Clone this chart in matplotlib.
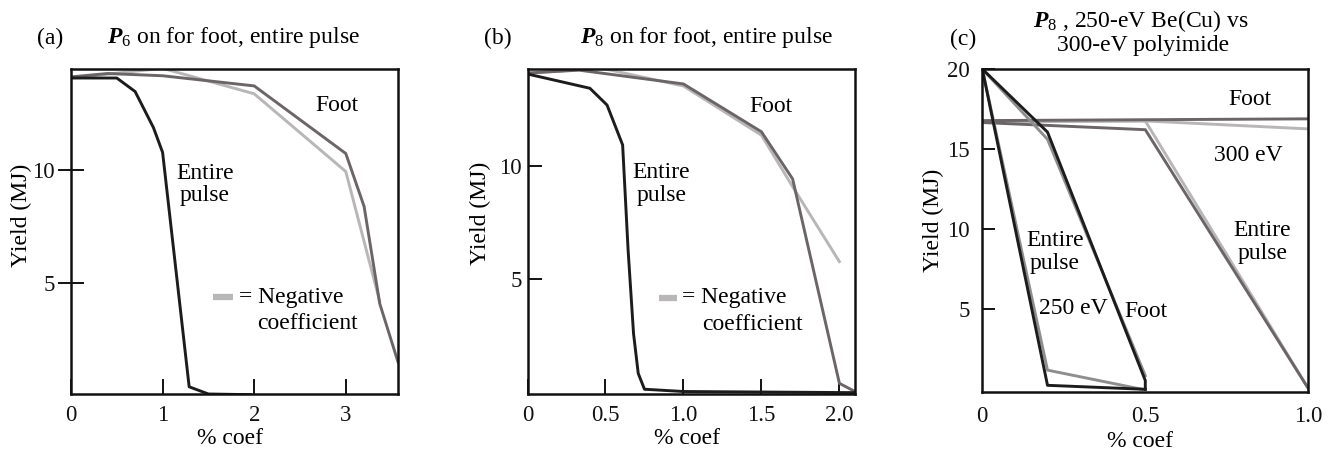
import numpy as np
import matplotlib.pyplot as plt

plt.rcParams['font.family'] = ['Liberation Serif', 'DejaVu Serif']
plt.rcParams['mathtext.fontset'] = 'custom'
plt.rcParams['mathtext.rm'] = 'Liberation Serif'
plt.rcParams['mathtext.it'] = 'Liberation Serif:italic'
plt.rcParams['mathtext.bf'] = 'Liberation Serif:bold'
plt.rcParams['mathtext.bfit'] = 'Liberation Serif:italic:bold'

BLACK = '#1c1c1c'
DARK = '#6b6567'
MID = '#8e8e8e'
LIGHT = '#b8b6b7'
LW = 2.1
FS = 17

# (a) P6 on for foot / entire pulse
a_entire_x = [0, 0.5, 0.7, 0.9, 1.0, 1.29, 1.5, 1.96]
a_entire_y = [14.1, 14.1, 13.5, 11.9, 10.8, 0.4, 0.08, 0.05]
a_foot_x = [0, 0.4, 1.0, 2.0, 3.0, 3.2, 3.37, 3.57]
a_foot_y = [14.15, 14.3, 14.2, 13.75, 10.75, 8.4, 4.1, 1.5]
a_neg_x = [0, 1.0, 2.0, 3.0, 3.37]
a_neg_y = [14.1, 14.53, 13.4, 9.95, 4.2]

# (b) P8 on for foot / entire pulse
b_entire_x = [0, 0.40, 0.51, 0.61, 0.645, 0.68, 0.71, 0.75, 1.0, 2.1]
b_entire_y = [14.06, 13.43, 12.69, 10.93, 6.3, 2.6, 0.85, 0.15, 0.05, 0.0]
b_foot_x = [0, 0.33, 1.0, 1.5, 1.7, 2.0, 2.1]
b_foot_y = [14.1, 14.23, 13.62, 11.51, 9.43, 0.41, 0.05]
b_neg_x = [0, 0.48, 1.0, 1.5, 1.7, 2.0]
b_neg_y = [14.1, 14.31, 13.53, 11.36, 9.09, 5.78]

# (c) P8, 250-eV Be(Cu) vs 300-eV polyimide
c_entire250_x = [0, 0.2, 0.5]
c_entire250_y = [20, 0.2, -0.05]
c_entire250_neg_x = [0, 0.2, 0.49]
c_entire250_neg_y = [20, 1.15, -0.05]
c_foot250_x = [0, 0.2, 0.5, 0.5]
c_foot250_y = [20, 16.05, 0.5, -0.05]
c_foot250_neg_x = [0, 0.2, 0.5]
c_foot250_neg_y = [20, 15.6, 0.8]
c_foot300_x = [0, 1.0]
c_foot300_y = [16.77, 16.88]
c_foot300_neg_x = [0, 0.5, 1.0]
c_foot300_neg_y = [16.7, 16.75, 16.25]
c_entire300_x = [0, 0.5, 1.0]
c_entire300_y = [16.65, 16.2, 0.0]
c_entire300_neg_x = [0, 0.5, 1.0]
c_entire300_neg_y = [16.7, 16.75, 0.0]

W, H = 1330, 451
fig = plt.figure(figsize=(W / 100, H / 100), dpi=100)


def px_axes(left, top, right, bottom):
    return fig.add_axes([left / W, 1 - bottom / H, (right - left) / W, (bottom - top) / H])


def px_text(x, y, s, **kw):
    fig.text(x / W, 1 - y / H, s, fontsize=FS, **kw)


def style_axes(ax):
    for sp in ax.spines.values():
        sp.set_linewidth(1.8)
        sp.set_color('#111111')
    ax.tick_params(labelsize=FS - 0.5, colors='#111111', width=1.4)


def neg_key(ax, x0, x1, y, tx1, tx2):
    ax.plot([x0, x1], [y, y], color=LIGHT, lw=4.5, solid_capstyle='butt')
    ax.text(tx1, y, '= Negative', fontsize=FS, va='center', ha='left')
    ax.text(tx2, y - 1.18, 'coefficient', fontsize=FS, va='center', ha='left')


# ---- (a)
ax = px_axes(71, 69, 398, 394)
ax.plot(a_neg_x, a_neg_y, color=LIGHT, lw=LW)
ax.plot(a_foot_x, a_foot_y, color=DARK, lw=LW)
ax.plot(a_entire_x, a_entire_y, color=BLACK, lw=LW)
ax.set_xlim(0, 3.57)
ax.set_ylim(0.08, 14.5)
ax.set_xticks([0, 1, 2, 3])
ax.set_yticks([5, 10])
style_axes(ax)
ax.tick_params(axis='x', direction='in', length=11, pad=8)
ax.tick_params(axis='y', direction='inout', length=19, pad=2)
ax.set_xlabel('% coef', fontsize=FS, va='center')
ax.xaxis.set_label_coords(0.486, -0.138)
ax.set_ylabel('Yield (MJ)', fontsize=FS, va='center')
ax.yaxis.set_label_coords(-0.15, 0.551)
ax.text(2.9, 12.86, 'Foot', fontsize=FS, ha='center', va='center')
ax.text(1.46, 9.38, 'Entire\npulse', fontsize=FS, ha='center', va='center', linespacing=1.1)
neg_key(ax, 1.55, 1.77, 4.37, 1.83, 2.03)
px_text(50, 38, '(a)', ha='center', va='center')
px_text(107, 38, r'$\mathbfit{P}_6$ on for foot, entire pulse', ha='left', va='center')

# ---- (b)
ax = px_axes(527.5, 69, 855, 394)
ax.plot(b_neg_x, b_neg_y, color=LIGHT, lw=LW)
ax.plot(b_foot_x, b_foot_y, color=DARK, lw=LW)
ax.plot(b_entire_x, b_entire_y, color=BLACK, lw=LW)
ax.set_xlim(0, 2.1)
ax.set_ylim(-0.06, 14.28)
ax.set_xticks([0, 0.5, 1.0, 1.5, 2.0])
ax.set_xticklabels(['0', '0.5', '1.0', '1.5', '2.0'])
ax.set_yticks([5, 10])
style_axes(ax)
ax.tick_params(axis='x', direction='in', length=11, pad=8)
ax.tick_params(axis='y', direction='in', length=10, pad=4)
ax.set_xlabel('% coef', fontsize=FS, va='center')
ax.xaxis.set_label_coords(0.486, -0.138)
ax.set_ylabel('Yield (MJ)', fontsize=FS, va='center')
ax.yaxis.set_label_coords(-0.145, 0.557)
ax.text(1.56, 12.62, 'Foot', fontsize=FS, ha='center', va='center')
ax.text(0.86, 9.2, 'Entire\npulse', fontsize=FS, ha='center', va='center', linespacing=1.1)
neg_key(ax, 0.84, 0.96, 4.19, 0.99, 1.12)
px_text(498, 38, '(b)', ha='center', va='center')
px_text(580, 38, r'$\mathbfit{P}_8$ on for foot, entire pulse', ha='left', va='center')

# ---- (c)
ax = px_axes(982.3, 69, 1308.3, 391.7)
ax.plot(c_foot300_neg_x, c_foot300_neg_y, color=LIGHT, lw=LW)
ax.plot(c_entire300_neg_x, c_entire300_neg_y, color=LIGHT, lw=LW)
ax.plot(c_foot300_x, c_foot300_y, color=DARK, lw=LW)
ax.plot(c_entire300_x, c_entire300_y, color=DARK, lw=LW)
ax.plot(c_entire250_neg_x, c_entire250_neg_y, color=MID, lw=LW)
ax.plot(c_foot250_neg_x, c_foot250_neg_y, color=MID, lw=LW)
ax.plot(c_entire250_x, c_entire250_y, color=BLACK, lw=LW)
ax.plot(c_foot250_x, c_foot250_y, color=BLACK, lw=LW)
ax.set_xlim(0, 1.0)
ax.set_ylim(-0.2, 20)
ax.set_xticks([0, 0.5, 1.0])
ax.set_xticklabels(['0', '0.5', '1.0'])
ax.set_yticks([5, 10, 15, 20])
style_axes(ax)
ax.tick_params(axis='x', direction='in', length=0, pad=10)
ax.tick_params(axis='y', direction='in', length=9, pad=9)
ax.set_xlabel('% coef', fontsize=FS, va='center')
ax.xaxis.set_label_coords(0.484, -0.155)
ax.set_ylabel('Yield (MJ)', fontsize=FS, va='center')
ax.yaxis.set_label_coords(-0.151, 0.532)
ax.text(0.82, 18.06, 'Foot', fontsize=FS, ha='center', va='center')
ax.text(0.816, 14.58, '300 eV', fontsize=FS, ha='center', va='center')
ax.text(0.86, 9.16, 'Entire\npulse', fontsize=FS, ha='center', va='center', linespacing=1.1)
ax.text(0.223, 8.54, 'Entire\npulse', fontsize=FS, ha='center', va='center', linespacing=1.1)
ax.text(0.279, 5.0, '250 eV', fontsize=FS, ha='center', va='center')
ax.text(0.503, 4.79, 'Foot', fontsize=FS, ha='center', va='center')
px_text(963, 39, '(c)', ha='center', va='center')
px_text(1141, 21, r'$\mathbfit{P}_8$ , 250-eV Be(Cu) vs', ha='center', va='center')
px_text(1143, 45, '300-eV polyimide', ha='center', va='center')

fig.savefig('out.png', dpi=100)
